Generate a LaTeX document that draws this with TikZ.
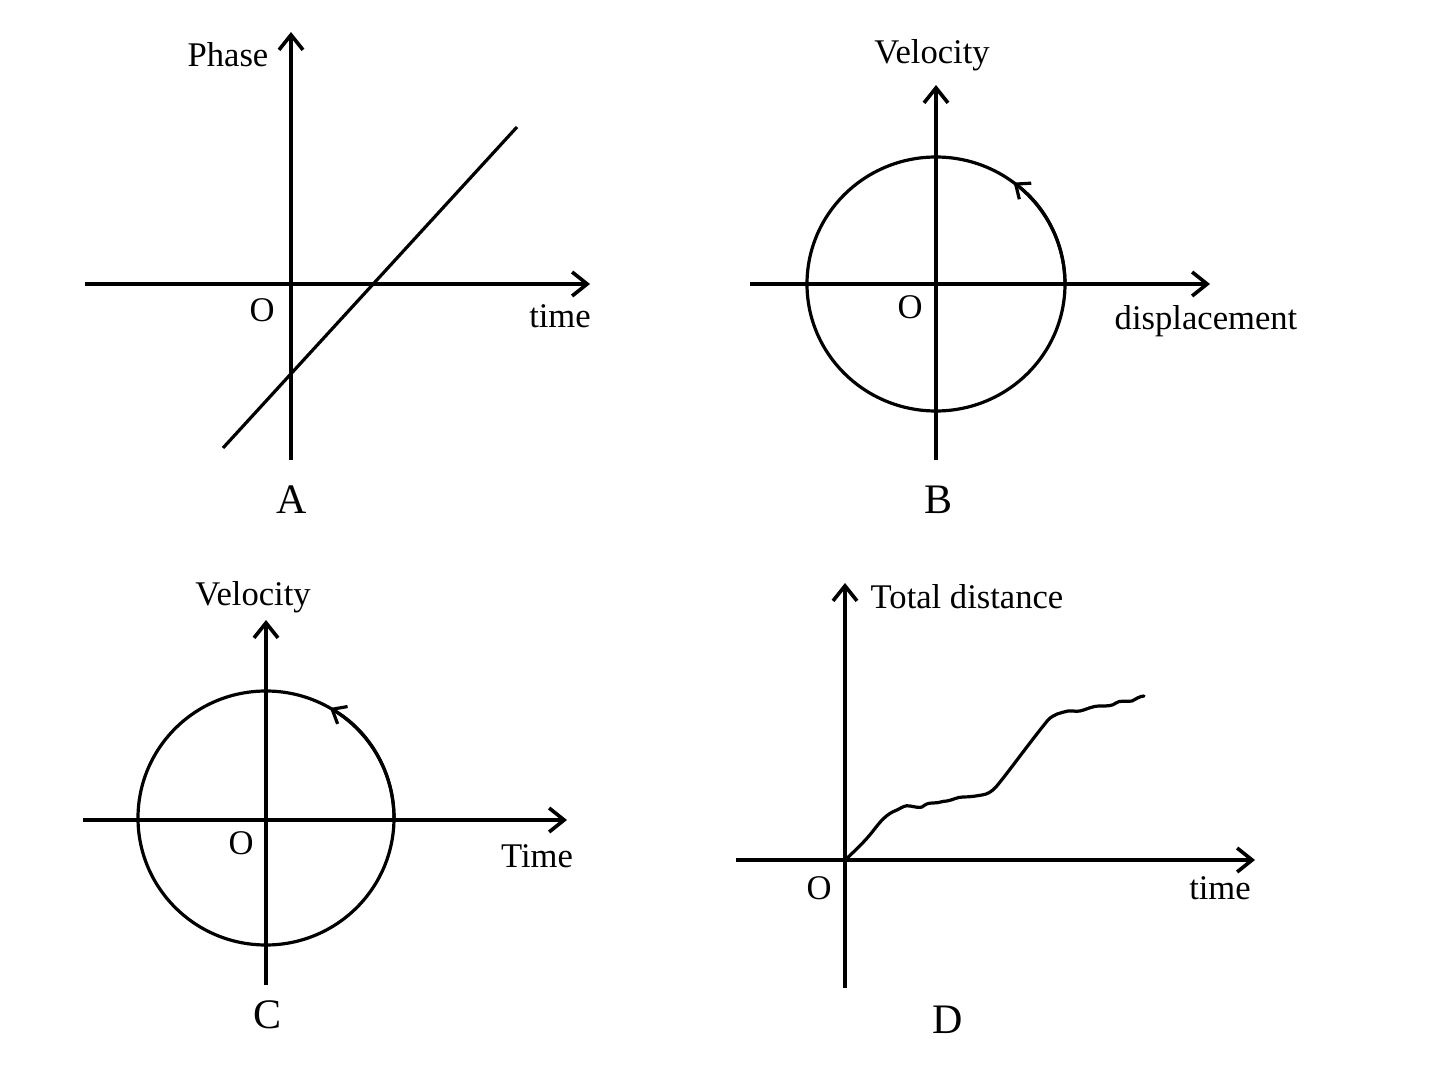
\documentclass[tikz,border=0pt]{standalone}
\usepackage{fontspec}
\setmainfont{Liberation Serif}
\usetikzlibrary{arrows.meta,calc}
\begin{document}
\begin{tikzpicture}[x=0.5pt,y=-0.5pt,
  axis/.style={line width=1.8pt,-{Straight Barb[length=7.5pt,width=12pt,line width=1.8pt]}},
  curve/.style={line width=1.6pt},
  lbl/.style={font=\fontsize{17.3}{20}\selectfont,inner sep=0pt},
  big/.style={font=\fontsize{21}{24}\selectfont,inner sep=0pt},
  cirarrow/.style={line width=1.6pt,-{Straight Barb[length=6pt,width=10pt,line width=1.6pt]}}]
\useasboundingbox (0,0) rectangle (1448,1086);
% ---------- A ----------
\coordinate (Ax0) at (85,284); \coordinate (Ax1) at (590,284);
\coordinate (Ay0) at (291,460); \coordinate (Ay1) at (291,32);
\coordinate (Al0) at (223,448); \coordinate (Al1) at (517,127);
\draw[axis] (Ax0) -- (Ax1);
\draw[axis] (Ay0) -- (Ay1);
\draw[curve] (Al0) -- (Al1);
\node[lbl] (Aph) at (228,55) {Phase};
\node[lbl] (AO) at (262,310) {O};
\node[lbl] (At) at (560,316) {time};
\node[big] (AA) at (292,500) {A};
% ---------- B ----------
\coordinate (Bc) at (936,284);
\coordinate (Bx0) at (750,284); \coordinate (Bx1) at (1210,284);
\coordinate (By0) at (936,460); \coordinate (By1) at (936,85);
\draw[axis] (Bx0) -- (Bx1);
\draw[axis] (By0) -- (By1);
\draw[curve] (Bc) circle [x radius=129, y radius=127];
\draw[cirarrow] ($(Bc)+(129,0)$) arc[start angle=0, end angle=-53, x radius=129, y radius=127];
\node[lbl] (BV) at (932,55) {Velocity};
\node[lbl] (BO) at (910,307) {O};
\node[lbl] (Bd) at (1206,321) {displacement};
\node[big] (BB) at (939,500) {B};
% ---------- C ----------
\coordinate (Cc) at (266,818);
\coordinate (Cx0) at (83,820); \coordinate (Cx1) at (567,820);
\coordinate (Cy0) at (266,985); \coordinate (Cy1) at (266,620);
\draw[axis] (Cx0) -- (Cx1);
\draw[axis] (Cy0) -- (Cy1);
\draw[curve] (Cc) circle [x radius=128, y radius=127];
\draw[cirarrow] ($(Cc)+(128,0)$) arc[start angle=0, end angle=-60, x radius=128, y radius=127];
\node[lbl] (CV) at (253,597) {Velocity};
\node[lbl] (CO) at (241,843) {O};
\node[lbl] (CT) at (537,856) {Time};
\node[big] (CC) at (268,1015) {C};
% ---------- D ----------
\coordinate (DO) at (845,860);
\coordinate (Dx0) at (736,860); \coordinate (Dx1) at (1255,860);
\coordinate (Dy0) at (845,988); \coordinate (Dy1) at (845,583);
\draw[axis] (Dx0) -- (Dx1);
\draw[axis] (Dy0) -- (Dy1);
\draw[curve,line join=round,line cap=round] (DO) .. controls (858,848) and (866,840) .. (873,831)
  .. controls (880,822) and (886,814) .. (897,810)
  .. controls (903,807) and (905,805) .. (910,806)
  .. controls (916,807) and (919,808) .. (922,807)
  .. controls (926,804) and (928,803) .. (933,803)
  .. controls (940,803) and (942,801) .. (947,801)
  .. controls (953,800) and (957,797) .. (963,797)
  .. controls (970,797) and (976,796) .. (982,795)
  .. controls (988,794) and (991,792) .. (996,787)
  .. controls (1010,770) and (1030,742) .. (1048,720)
  .. controls (1054,714) and (1060,713) .. (1068,711)
  .. controls (1072,710) and (1074,712) .. (1080,711)
  .. controls (1088,709) and (1092,706) .. (1100,706)
  .. controls (1108,706) and (1112,706) .. (1116,703)
  .. controls (1120,700) and (1124,702) .. (1132,701)
  .. controls (1136,699) and (1140,696) .. (1144,696);
\node[lbl] (DT) at (967,597) {Total distance};
\node[lbl] (DOl) at (819,888) {O};
\node[lbl] (Dt) at (1220,888) {time};
\node[big] (DD) at (948,1020) {D};
\end{tikzpicture}
\end{document}
